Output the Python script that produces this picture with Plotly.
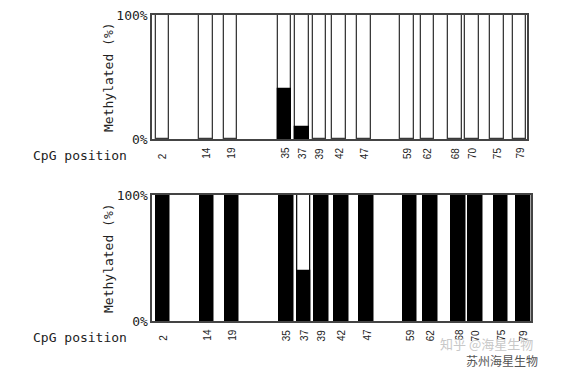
import plotly.graph_objects as go

# CpG site labels and their relative positions along the region (0-100 scale)
cpg_labels = ["2", "14", "19", "35", "37", "39", "42", "47", "59", "62", "68", "70", "75", "79"]
cpg_pos = [2.75, 14.37, 20.99, 35.39, 40.06, 44.69, 49.9, 56.62, 68.08, 73.46, 80.92, 85.4, 92.11, 98.09]

# Percent methylated per CpG site
meth_top = [0, 0, 0, 40, 10, 0, 0, 0, 0, 0, 0, 0, 0, 0]
meth_bottom = [100, 100, 100, 100, 40, 100, 100, 100, 100, 100, 100, 100, 100, 100]
full = [100] * len(cpg_pos)

# the page body keeps an 8px default margin, so the figure is placed 8px in
OFF = 8
W, H = 562 - OFF, 368 - OFF
BAR_W = 3.6
MONO = "DejaVu Sans Mono"


def fx(px):
    return (px - OFF) / W


def fy(py):
    return 1 - (py - OFF) / H


fig = go.Figure()

panels = [
    ("x", "y", meth_top, "#3a3a3a"),
    ("x2", "y2", meth_bottom, "#111111"),
]
for xa, ya, vals, lc in panels:
    fig.add_trace(go.Bar(x=cpg_pos, y=full, width=BAR_W, xaxis=xa, yaxis=ya,
                         marker=dict(color="white", line=dict(color=lc, width=1.3)),
                         showlegend=False, hoverinfo="skip"))
    fig.add_trace(go.Bar(x=cpg_pos, y=[v if v > 0 else None for v in vals], width=BAR_W,
                         xaxis=xa, yaxis=ya,
                         marker=dict(color="black", line=dict(color="black", width=1.3)),
                         showlegend=False))

axis_common = dict(showgrid=False, zeroline=False, showline=True, mirror=True,
                   linewidth=1.5, ticks="", automargin=False)
ytick_common = dict(range=[0, 100], tickvals=[0, 100], ticktext=["0%", "100%"],
                    tickfont=dict(family=MONO, size=13, color="#222"),
                    ticklabeloverflow="allow", linecolor="#444")
fig.update_layout(
    width=W, height=H, margin=dict(l=0, r=0, t=0, b=0, pad=0, autoexpand=False),
    paper_bgcolor="white", plot_bgcolor="white",
    barmode="overlay", bargap=0,
    xaxis=dict(domain=[fx(152), fx(526.7)], range=[0, 100], showticklabels=False,
               linecolor="#444", anchor="y", **axis_common),
    yaxis=dict(domain=[fy(139), fy(15)], anchor="x", **ytick_common, **axis_common),
    xaxis2=dict(domain=[fx(152.3), fx(530.7)], range=[0, 100], showticklabels=False,
                linecolor="#444", anchor="y2", **axis_common),
    yaxis2=dict(domain=[fy(321), fy(195)], anchor="x2", **ytick_common, **axis_common),
)

annotations = []
for xref, ymid, ylab_bottom, ypos_line in [("x", 77, 161, 155), ("x2", 258, 343, 337)]:
    annotations.append(dict(text="Methylated (%)", textangle=-90, xref="paper", yref="paper",
                            x=fx(108), y=fy(ymid), showarrow=False,
                            font=dict(family=MONO, size=13, color="#222"),
                            xanchor="center", yanchor="middle"))
    annotations.append(dict(text="CpG position", xref="paper", yref="paper",
                            x=fx(31), y=fy(ypos_line), showarrow=False,
                            font=dict(family=MONO, size=13, color="#222"),
                            xanchor="left", yanchor="middle"))
    for lab, p in zip(cpg_labels, cpg_pos):
        annotations.append(dict(text=lab, textangle=-90, xref=xref, yref="paper",
                                x=p, y=fy(ylab_bottom), showarrow=False,
                                font=dict(family="Liberation Sans", size=10, color="#222"),
                                xanchor="center", yanchor="bottom"))

annotations.append(dict(text="知乎 @海星生物", xref="paper", yref="paper", x=fx(486), y=fy(343),
                        showarrow=False, font=dict(family="Noto Sans CJK SC", size=13, color="#c8c8c8"),
                        xanchor="center", yanchor="middle"))
annotations.append(dict(text="苏州海星生物", xref="paper", yref="paper", x=fx(502), y=fy(360),
                        showarrow=False, font=dict(family="Noto Sans CJK SC", size=12, color="#555"),
                        xanchor="center", yanchor="middle"))
fig.update_layout(annotations=annotations)

fig.write_html("out.html")
